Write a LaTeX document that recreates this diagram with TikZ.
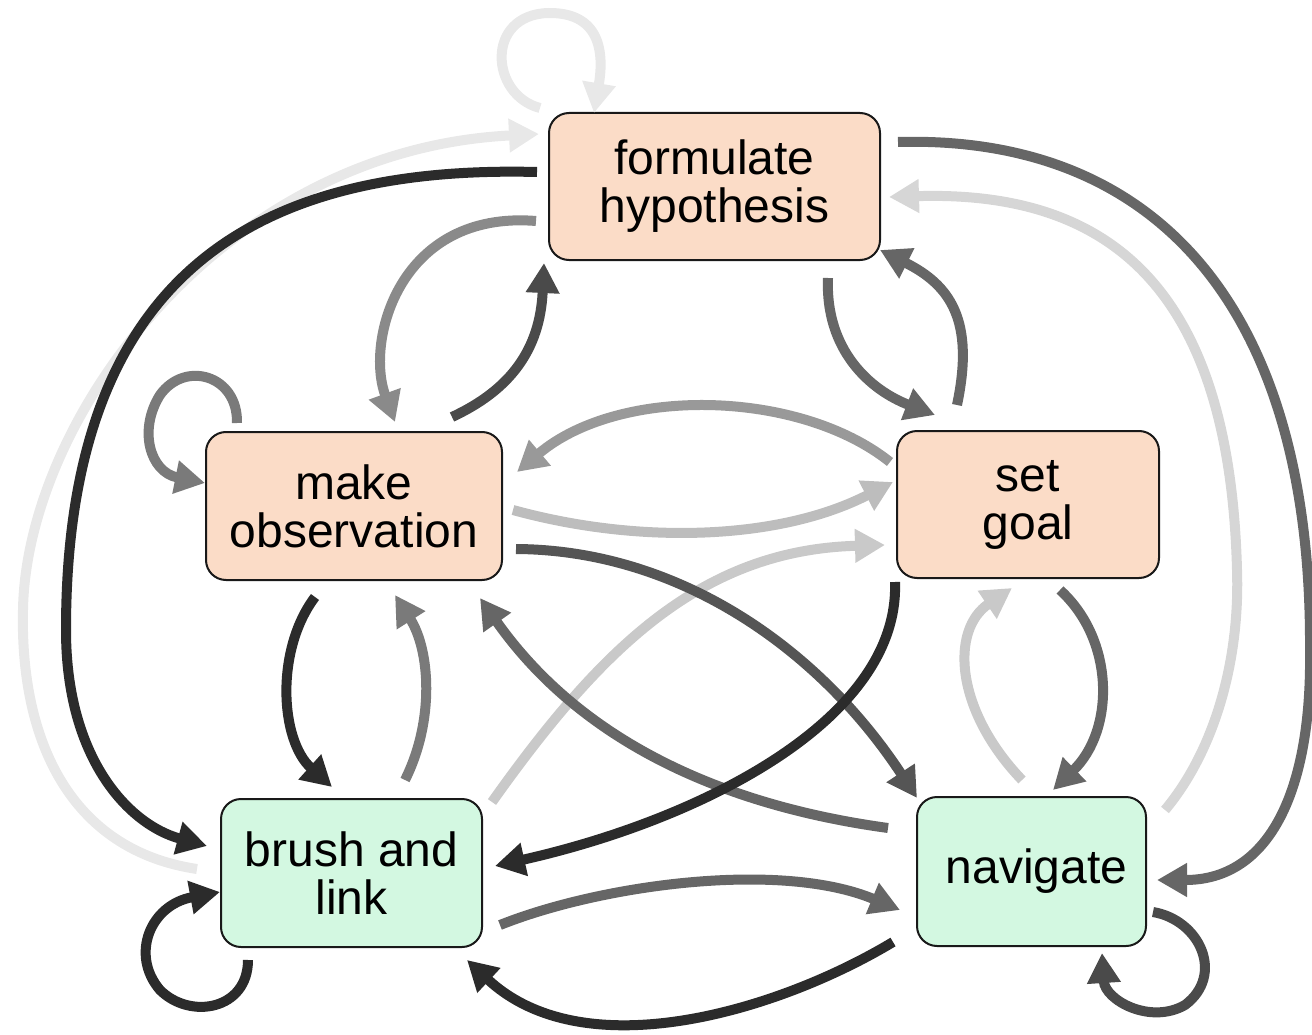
\documentclass[tikz,border=0pt]{standalone}
\usepackage{fontspec}
\setmainfont{Liberation Sans}
\usetikzlibrary{arrows.meta,calc}
\definecolor{peach}{HTML}{FBDCC7}
\definecolor{mint}{HTML}{D3F8E1}
\definecolor{cA}{HTML}{2B2B2B}
\definecolor{cB}{HTML}{4A4A4A}
\definecolor{cC}{HTML}{555555}
\definecolor{cD}{HTML}{666666}
\definecolor{cE}{HTML}{7A7A7A}
\definecolor{cF}{HTML}{8A8A8A}
\definecolor{cG}{HTML}{999999}
\definecolor{cH}{HTML}{BDBDBD}
\definecolor{cI}{HTML}{C9C9C9}
\definecolor{cJ}{HTML}{D6D6D6}
\definecolor{cK}{HTML}{E8E8E8}
\begin{document}
\begin{tikzpicture}[x=1pt,y=-1pt,
  box/.style={draw=black!90, line width=2pt, rounded corners=20pt, inner sep=0pt,
    align=center, font=\fontsize{48}{48}\selectfont},
  arr/.style={line width=10pt, -{Triangle[length=30pt,width=32pt]}}]
\useasboundingbox (0,0) rectangle (1312,1035);
\node[box, fill=peach, minimum width=331pt, minimum height=147pt] (fh) at (714.5,186.5) {formulate\\hypothesis};
\node[box, fill=peach, minimum width=296pt, minimum height=148pt] (mo) at (354,506) {make\\observation};
\node[box, fill=peach, minimum width=262pt, minimum height=147pt] (sg) at (1028,504.5) {set\\goal};
\node[box, fill=mint, minimum width=261pt, minimum height=148pt] (bl) at (351.5,873) {brush and\\link};
\node[box, fill=mint, minimum width=229pt, minimum height=149pt] (nav) at (1031.5,871.5) {\hspace*{10pt}navigate};
% very light
\draw[arr, cK] ($(fh)+(-174.5,-78.5)$) .. controls (490,95) and (485,15) .. (548,13) .. controls (605,12) and (603,60) .. ($(fh)+(-120.5,-73.5)$);
\draw[arr, cK] ($(bl)+(-154.5,-4)$) .. controls (70,850) and (20,740) .. (23,610) .. controls (26,420) and (220,150) .. ($(fh)+(-175.5,-52.5)$);
% light
\draw[arr, cJ] ($(nav)+(133.5,-61.5)$) .. controls (1215,750) and (1240,660) .. (1237,570) .. controls (1230,300) and (1120,190) .. ($(fh)+(174.5,10.5)$);
\draw[arr, cI] ($(bl)+(140.5,-71)$) .. controls (600,650) and (700,550) .. ($(sg)+(-143,40.5)$);
\draw[arr, cI] ($(nav)+(-9.5,-91.5)$) .. controls (955,710) and (950,630) .. ($(sg)+(-16,83.5)$);
\draw[arr, cH] ($(mo)+(159,4)$) .. controls (640,545) and (780,540) .. ($(sg)+(-135,-22.5)$);
% mid
\draw[arr, cG] ($(sg)+(-138,-42.5)$) .. controls (800,390) and (620,385) .. ($(mo)+(163,-34)$);
\draw[arr, cF] ($(fh)+(-178.5,34.5)$) .. controls (400,210) and (365,340) .. ($(mo)+(41,-84)$);
\draw[arr, cE] ($(mo)+(-117,-83)$) .. controls (238,375) and (185,360) .. (160,395) .. controls (138,430) and (150,472) .. ($(mo)+(-149,-23)$);
\draw[arr, cE] ($(bl)+(53.5,-93)$) .. controls (435,720) and (430,650) .. ($(mo)+(41,89)$);
% dark gray
\draw[arr, cD] ($(fh)+(183.5,-44.5)$) .. controls (1150,135) and (1312,300) .. (1310,650) .. controls (1312,790) and (1270,880) .. ($(nav)+(125.5,8.5)$);
\draw[arr, cD] ($(sg)+(-71,-99.5)$) .. controls (975,320) and (950,285) .. ($(fh)+(165.5,63.5)$);
\draw[arr, cD] ($(fh)+(113.5,91.5)$) .. controls (825,350) and (870,390) .. ($(sg)+(-93,-89.5)$);
\draw[arr, cD] ($(nav)+(-143.5,-43.5)$) .. controls (720,805) and (580,740) .. ($(mo)+(126,92)$);
\draw[arr, cD] ($(sg)+(32,85.5)$) .. controls (1115,640) and (1115,730) .. ($(nav)+(21.5,-81.5)$);
\draw[arr, cD] ($(bl)+(148.5,52)$) .. controls (600,885) and (780,860) .. ($(nav)+(-131.5,38.5)$);
\draw[arr, cC] ($(mo)+(162,43)$) .. controls (680,550) and (820,650) .. ($(nav)+(-114.5,-73.5)$);
\draw[arr, cB] ($(mo)+(98,-89)$) .. controls (510,390) and (540,350) .. ($(fh)+(-170.5,76.5)$);
\draw[arr, cB] ($(nav)+(121.5,40.5)$) .. controls (1200,920) and (1225,975) .. (1185,1005) .. controls (1150,1025) and (1105,1000) .. ($(nav)+(70.5,81.5)$);
% black
\draw[arr, cA] ($(fh)+(-177.5,-14.5)$) .. controls (260,165) and (66,270) .. (66,630) .. controls (66,760) and (130,825) .. ($(bl)+(-144.5,-27)$);
\draw[arr, cA] ($(sg)+(-133,77.5)$) .. controls (900,720) and (700,820) .. ($(bl)+(143.5,-7)$);
\draw[arr, cA] ($(mo)+(-39,91)$) .. controls (275,650) and (280,740) .. ($(bl)+(-19.5,-86)$);
\draw[arr, cA] ($(nav)+(-138.5,70.5)$) .. controls (780,1010) and (585,1070) .. ($(bl)+(115.5,87)$);
\draw[arr, cA] ($(bl)+(-103.5,87)$) .. controls (248,1010) and (190,1020) .. (160,990) .. controls (130,955) and (150,905) .. ($(bl)+(-131.5,19)$);
\end{tikzpicture}
\end{document}
